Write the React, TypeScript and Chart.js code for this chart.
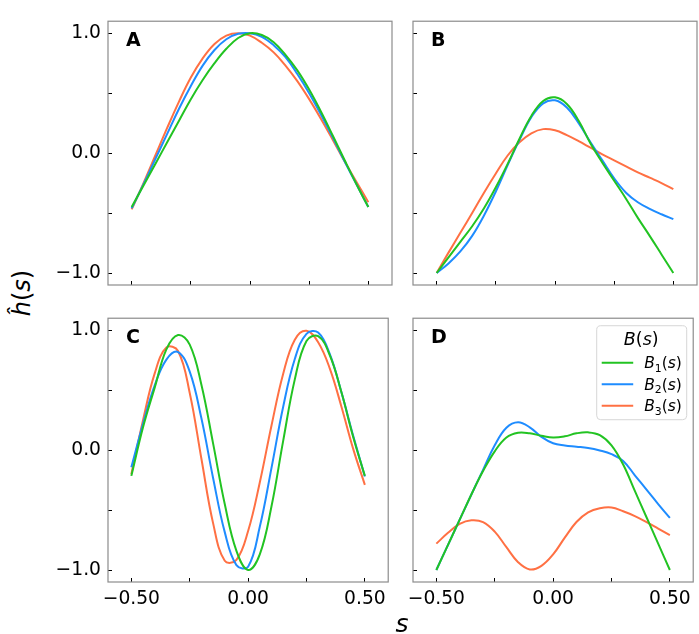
import { useEffect, useRef } from 'react'
import { Chart, registerables } from 'chart.js'

Chart.register(...registerables)

// shared s grid
const S = [-0.5, -0.45, -0.4, -0.35, -0.3, -0.25, -0.2, -0.15, -0.1, -0.05, 0, 0.05, 0.1, 0.15, 0.2, 0.25, 0.3, 0.35, 0.4, 0.45, 0.5]

const SERIES_LABELS = ['B₁(s)', 'B₂(s)', 'B₃(s)']
const SERIES_COLORS = ['#22c322', '#1e8cff', '#ff7043']
const LEGEND_TITLE = 'B(s)'

const X_TICKS = [-0.5, -0.25, 0, 0.25, 0.5]
const X_TICK_LABELS = ['−0.50', '', '0.00', '', '0.50']
const Y_TICKS = [-1, -0.5, 0, 0.5, 1]
const Y_TICK_LABELS = ['−1.0', '', '0.0', '', '1.0']

// panel A
const A_B1 = [-0.45, -0.27, -0.09, 0.09, 0.27, 0.45, 0.61, 0.75, 0.87, 0.96, 1.0, 0.985, 0.925, 0.82, 0.69, 0.53, 0.345, 0.145, -0.06, -0.26, -0.45]
const A_B2 = [-0.46, -0.26, -0.05, 0.16, 0.37, 0.56, 0.73, 0.86, 0.95, 0.995, 1.0, 0.97, 0.9, 0.8, 0.66, 0.5, 0.32, 0.13, -0.07, -0.26, -0.45]
const A_B3 = [-0.47, -0.25, -0.02, 0.21, 0.43, 0.63, 0.79, 0.91, 0.98, 1.0, 0.98, 0.92, 0.84, 0.73, 0.6, 0.45, 0.285, 0.11, -0.07, -0.24, -0.41]

// panel B
const B_B1 = [-1.0, -0.87, -0.74, -0.61, -0.46, -0.285, -0.09, 0.12, 0.31, 0.435, 0.465, 0.41, 0.27, 0.08, -0.08, -0.23, -0.38, -0.54, -0.69, -0.845, -1.0]
const B_B2 = [-1.0, -0.92, -0.82, -0.69, -0.52, -0.32, -0.1, 0.11, 0.3, 0.415, 0.44, 0.38, 0.25, 0.09, -0.06, -0.21, -0.33, -0.41, -0.465, -0.51, -0.55]
const B_B3 = [-1.0, -0.83, -0.665, -0.5, -0.33, -0.17, -0.02, 0.09, 0.165, 0.2, 0.19, 0.15, 0.1, 0.045, -0.01, -0.06, -0.11, -0.16, -0.205, -0.25, -0.3]

// panel C
const C_B1 = [-0.215, 0.19, 0.52, 0.84, 0.96, 0.88, 0.545, 0.056, -0.45, -0.84, -1.0, -0.87, -0.47, 0.075, 0.59, 0.91, 0.95, 0.79, 0.48, 0.11, -0.215]
const C_B2 = [-0.143, 0.22, 0.54, 0.755, 0.818, 0.654, 0.265, -0.232, -0.684, -0.959, -0.972, -0.64, -0.15, 0.36, 0.76, 0.97, 0.98, 0.8, 0.48, 0.12, -0.22]
const C_B3 = [-0.2, 0.25, 0.64, 0.855, 0.827, 0.477, -0.072, -0.609, -0.923, -0.916, -0.675, -0.27, 0.203, 0.635, 0.921, 0.995, 0.9, 0.68, 0.36, 0.01, -0.29]

// panel D
const D_B1 = [-1.0, -0.79, -0.58, -0.37, -0.175, -0.01, 0.105, 0.145, 0.14, 0.12, 0.105, 0.115, 0.14, 0.148, 0.125, 0.04, -0.12, -0.34, -0.56, -0.78, -1.0]
const D_B2 = [-1.0, -0.79, -0.58, -0.37, -0.165, 0.04, 0.187, 0.232, 0.19, 0.11, 0.057, 0.039, 0.029, 0.018, -0.003, -0.034, -0.09, -0.21, -0.33, -0.45, -0.566]
const D_B3 = [-0.78, -0.69, -0.615, -0.585, -0.6, -0.68, -0.81, -0.935, -0.995, -0.965, -0.87, -0.73, -0.6, -0.52, -0.485, -0.478, -0.51, -0.55, -0.6, -0.655, -0.71]

const FONT = '"DejaVu Sans", sans-serif'
const Y_AXIS_W = 60
const X_AXIS_H = 36
const PAD = 4
const PLOT_W = 284
const PLOT_H = 282

const SUBS: Record<string, string> = { '₀': '0', '₁': '1', '₂': '2', '₃': '3', '₄': '4' }

// mathtext-ish: italic letters, upright parens, small lowered subscripts
function mathWidth(ctx: CanvasRenderingContext2D, text: string, size: number) {
  let w = 0
  for (const ch of text) {
    if (SUBS[ch]) { ctx.font = `${size * 0.7}px ${FONT}`; w += ctx.measureText(SUBS[ch]).width }
    else if (ch === '(' || ch === ')') { ctx.font = `${size}px ${FONT}`; w += ctx.measureText(ch).width }
    else { ctx.font = `italic ${size}px ${FONT}`; w += ctx.measureText(ch).width }
  }
  return w
}

function drawMath(ctx: CanvasRenderingContext2D, text: string, x: number, y: number, size: number) {
  let cx = x
  for (const ch of text) {
    if (SUBS[ch]) {
      ctx.font = `${size * 0.7}px ${FONT}`
      ctx.fillText(SUBS[ch], cx, y + size * 0.22)
      cx += ctx.measureText(SUBS[ch]).width
    } else {
      ctx.font = ch === '(' || ch === ')' ? `${size}px ${FONT}` : `italic ${size}px ${FONT}`
      ctx.fillText(ch, cx, y)
      cx += ctx.measureText(ch).width
    }
  }
}

const panelPlugin = {
  id: 'panel',
  afterDraw(chart: any, _args: any, opts: any) {
    const { ctx, chartArea } = chart
    const { left, top, right, bottom } = chartArea
    ctx.save()
    ctx.strokeStyle = '#8c8c8c'
    ctx.lineWidth = 1.2
    ctx.strokeRect(left, top, right - left, bottom - top)

    ctx.fillStyle = '#000'
    ctx.font = `bold 19px ${FONT}`
    ctx.textBaseline = 'alphabetic'
    ctx.textAlign = 'left'
    ctx.fillText(opts.letter, left + 18, top + 25)

    if (opts.legend) {
      const bw = 90, bh = 94
      const bx = right - 7 - bw
      const by = top + 7
      ctx.fillStyle = 'rgba(255,255,255,0.85)'
      ctx.strokeStyle = '#d6d6d6'
      ctx.lineWidth = 1
      ctx.beginPath()
      ctx.roundRect(bx + 0.5, by + 0.5, bw, bh, 4)
      ctx.fill()
      ctx.stroke()

      ctx.fillStyle = '#000'
      ctx.textAlign = 'left'
      ctx.textBaseline = 'alphabetic'
      const tw = mathWidth(ctx, LEGEND_TITLE, 17.5)
      drawMath(ctx, LEGEND_TITLE, bx + bw / 2 - tw / 2, by + 19.5, 17.5)

      chart.data.datasets.forEach((ds: any, i: number) => {
        const y = by + 37.5 + i * 21.5
        ctx.strokeStyle = ds.borderColor
        ctx.lineWidth = 2
        ctx.beginPath()
        ctx.moveTo(bx + 5.5, y)
        ctx.lineTo(bx + 37, y)
        ctx.stroke()
        ctx.fillStyle = '#000'
        drawMath(ctx, ds.label, bx + 48, y + 5.5, 15.5)
      })
    }
    ctx.restore()
  },
}

interface PanelProps {
  letter: string
  series: number[][]
  left: number
  top: number
  showX: boolean
  showY: boolean
  legend?: boolean
}

function Panel({ letter, series, left, top, showX, showY, legend }: PanelProps) {
  const canvasRef = useRef<HTMLCanvasElement>(null)
  const w = Y_AXIS_W + PLOT_W + PAD
  const h = PAD + PLOT_H + X_AXIS_H

  useEffect(() => {
    if (!canvasRef.current) return
    const tickFont = { family: FONT, size: 18.7 }
    const chart = new Chart(canvasRef.current, {
      type: 'line',
      data: {
        datasets: series.map((vals, i) => ({
          label: SERIES_LABELS[i],
          data: S.map((s, j) => ({ x: s, y: vals[j] })),
          borderColor: SERIES_COLORS[i],
          backgroundColor: SERIES_COLORS[i],
          borderWidth: 2,
          pointRadius: 0,
          tension: 0.4,
          fill: false,
        })),
      },
      options: {
        responsive: false,
        maintainAspectRatio: false,
        animation: false,
        layout: { padding: { top: PAD, right: PAD, left: 0, bottom: 0 } },
        plugins: {
          legend: { display: false },
          tooltip: { enabled: false },
          panel: { letter, legend: !!legend },
        } as any,
        scales: {
          x: {
            type: 'linear',
            min: -0.6,
            max: 0.6,
            afterBuildTicks: (scale: any) => { scale.ticks = X_TICKS.map(v => ({ value: v })) },
            afterFit: (scale: any) => { scale.height = X_AXIS_H },
            border: { display: false },
            grid: { drawOnChartArea: false, drawTicks: true, tickLength: -4, tickColor: '#000', tickWidth: 1 },
            ticks: {
              autoSkip: false,
              maxRotation: 0,
              padding: 10,
              color: '#000',
              font: tickFont,
              callback: (v: any) => (showX ? X_TICK_LABELS[X_TICKS.indexOf(Number(v))] ?? '' : ''),
            },
          },
          y: {
            type: 'linear',
            min: -1.1,
            max: 1.1,
            afterBuildTicks: (scale: any) => { scale.ticks = Y_TICKS.map(v => ({ value: v })) },
            afterFit: (scale: any) => { scale.width = Y_AXIS_W },
            border: { display: false },
            grid: { drawOnChartArea: false, drawTicks: true, tickLength: -4, tickColor: '#000', tickWidth: 1 },
            ticks: {
              autoSkip: false,
              padding: 11,
              color: '#000',
              font: tickFont,
              callback: (v: any) => (showY ? Y_TICK_LABELS[Y_TICKS.indexOf(Number(v))] ?? '' : ''),
            },
          },
        },
      },
      plugins: [panelPlugin],
    })
    return () => { chart.destroy() }
  }, [letter, series, showX, showY, legend])

  return (
    <canvas
      ref={canvasRef}
      width={w}
      height={h}
      style={{ position: 'absolute', left: left - Y_AXIS_W, top: top - PAD, width: w, height: h }}
    />
  )
}

export default function App() {
  return (
    <div style={{ position: 'absolute', left: 0, top: 0, width: 699, height: 634, background: '#fff', overflow: 'hidden' }}>
      <Panel letter="A" series={[A_B1, A_B2, A_B3]} left={108} top={3} showX={false} showY />
      <Panel letter="B" series={[B_B1, B_B2, B_B3]} left={413} top={3} showX={false} showY={false} />
      <Panel letter="C" series={[C_B1, C_B2, C_B3]} left={108} top={300} showX showY />
      <Panel letter="D" series={[D_B1, D_B2, D_B3]} left={413} top={300} showX showY={false} legend />
      <div
        style={{
          position: 'absolute', left: 22, top: 293, fontFamily: FONT, fontStyle: 'italic', fontSize: 24,
          lineHeight: 1, whiteSpace: 'nowrap', transform: 'translate(-50%, -50%) rotate(-90deg)',
        }}
      >
        ĥ<span style={{ fontStyle: 'normal' }}>(</span>s<span style={{ fontStyle: 'normal' }}>)</span>
      </div>
      <div
        style={{
          position: 'absolute', left: 402, top: 611, fontFamily: FONT, fontStyle: 'italic', fontSize: 25,
          lineHeight: 1, transform: 'translateX(-50%)',
        }}
      >
        s
      </div>
    </div>
  )
}
